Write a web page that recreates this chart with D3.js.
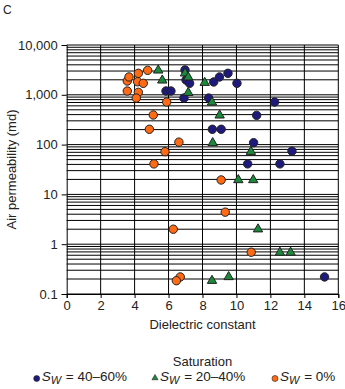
<!DOCTYPE html>
<html><head><meta charset="utf-8">
<script src="https://cdn.jsdelivr.net/npm/d3@7"></script>
<style>body{margin:0;background:#fff}svg{display:block}text{font-family:"Liberation Sans",Arial,sans-serif;fill:#222}</style>
</head><body><svg id="c" width="345" height="389"></svg>
<script>
// Dielectric constant (x) and air permeability in md (y)
const blueX = [5.85,6.14,6.97,7.03,7.24,6.91,8.36,8.66,9.0,9.5,10.03,12.25,11.19,8.58,9.10,11.01,13.27,10.66,12.56,15.19];
const blueY = [1190,1190,3150,1980,1700,860,860,1810,2280,2700,1700,716,387,203,203,109,74,41,41,0.22];
const greenX = [5.39,5.63,6.97,7.16,7.16,8.13,8.56,9.01,8.60,10.85,10.11,10.99,11.27,12.56,13.19,8.56,9.54];
const greenY = [3100,1950,2700,2250,1100,1750,706,387,108,72,19.5,19.5,2.0,0.68,0.68,0.185,0.22];
const orangeX = [3.57,3.67,3.57,4.22,4.18,4.51,4.22,4.10,4.77,5.89,5.10,4.87,6.61,5.79,5.14,6.28,9.10,9.34,10.87,6.69,6.46];
const orangeY = [1890,2280,1190,2700,1830,1700,1120,860,3100,716,393,203,112,72,41,2.0,19.5,4.4,0.69,0.22,0.185];
const xTicks = [0,2,4,6,8,10,12,14,16];
const yTicks = [0.1,1,10,100,1000,10000];
const yTickLabels = ["0.1","1","10","100","1,000","10,000"];
const seriesNames = ["= 40\u201360%","= 20\u201340%","= 0%"];
const colors = ["#1e1a7c","#1a8a3a","#ff6a14"];

const svg = d3.select("#c");
const x = d3.scaleLinear().domain([0,16]).range([66.7,338.3]);
const y = d3.scaleLog().domain([0.1,10000]).range([294,45]);

const g = svg.append("g");
// horizontal grid
g.selectAll("line.h").data(y.ticks()).join("line")
  .attr("x1",x(0)).attr("x2",x(16)).attr("y1",d=>y(d)).attr("y2",d=>y(d))
  .attr("stroke","#000").attr("stroke-width",1);
// vertical grid
g.selectAll("line.v").data(xTicks.slice(1)).join("line")
  .attr("x1",d=>x(d)).attr("x2",d=>x(d)).attr("y1",y(10000)).attr("y2",y(0.1))
  .attr("stroke","#000").attr("stroke-width",1);

const ax = svg.append("g").attr("transform",`translate(0,${y(0.1)})`)
  .call(d3.axisBottom(x).tickValues(xTicks).tickSize(4).tickPadding(3).tickFormat(d3.format("d")));
const ay = svg.append("g").attr("transform",`translate(${x(0)},0)`)
  .call(d3.axisLeft(y).tickValues(yTicks).tickSize(5).tickPadding(4).tickFormat((d,i)=>yTickLabels[i]));
[ax,ay].forEach(a=>{a.selectAll("text").attr("font-size",13).style("fill","#222").attr("font-family",null);
  a.select(".domain").attr("stroke","#000");a.selectAll(".tick line").attr("stroke","#000");});

// markers
const tri = d3.symbol().type(d3.symbolTriangle).size(38);
function circles(xs,ys,col){svg.append("g").selectAll("circle").data(xs).join("circle")
  .attr("cx",d=>x(d)).attr("cy",(d,i)=>y(ys[i])).attr("r",4.2)
  .attr("fill",col).attr("stroke","#222").attr("stroke-width",1);}
circles(blueX,blueY,colors[0]);
svg.append("g").selectAll("path").data(greenX).join("path")
  .attr("transform",(d,i)=>`translate(${x(d)},${y(greenY[i])})`).attr("d",tri)
  .attr("fill",colors[1]).attr("stroke","#222").attr("stroke-width",1);
circles(orangeX,orangeY,colors[2]);

// labels
svg.append("text").attr("x",3).attr("y",14).attr("font-size",12).text("C");
svg.append("text").attr("x",(x(0)+x(16))/2).attr("y",329).attr("text-anchor","middle").attr("font-size",13).text("Dielectric constant");
svg.append("text").attr("transform",`translate(16,${(y(0.1)+y(10000))/2}) rotate(-90)`).attr("text-anchor","middle").attr("font-size",13).text("Air permeability (md)");
svg.append("text").attr("x",202.5).attr("y",366).attr("text-anchor","middle").attr("font-size",13).text("Saturation");

// legend
const legX = [36.7,155,275];
const lg = svg.append("g");
legX.forEach((lx,i)=>{
  if(i===1) lg.append("path").attr("transform",`translate(${lx},378)`).attr("d",d3.symbol().type(d3.symbolTriangle).size(16)).attr("fill",colors[i]).attr("stroke","#222").attr("stroke-width",0.6);
  else lg.append("circle").attr("cx",lx).attr("cy",378.5).attr("r",3).attr("fill",colors[i]).attr("stroke","#222").attr("stroke-width",0.6);
  const t = lg.append("text").attr("x",lx+5).attr("y",381).attr("font-size",13.5);
  t.append("tspan").attr("font-style","italic").text("S");
  t.append("tspan").attr("font-style","italic").attr("font-size",11).attr("dy",3).text("W");
  t.append("tspan").attr("dy",-3).attr("dx",1).text("\u00a0"+seriesNames[i]);
});
</script></body></html>
